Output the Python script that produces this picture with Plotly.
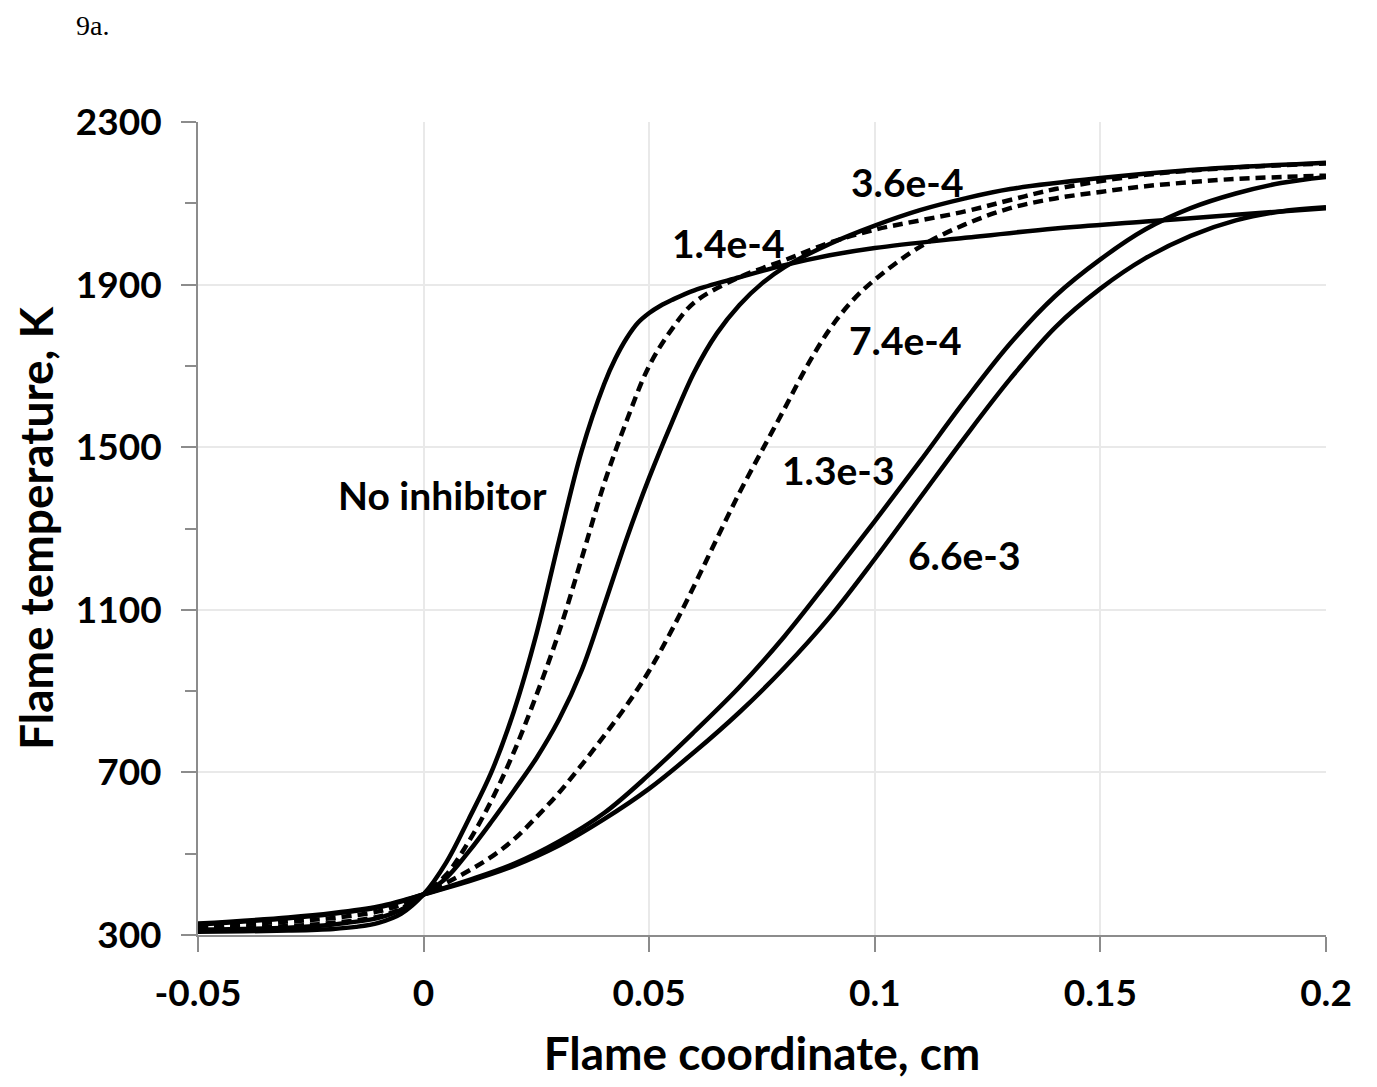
import plotly.graph_objects as go

# ---- data ----
x_no = [-0.05, -0.04, -0.03, -0.02, -0.015, -0.01, -0.005, 0, 0.005, 0.01, 0.015, 0.02, 0.025, 0.03,
        0.035, 0.04, 0.0425, 0.045, 0.0475, 0.05, 0.0525, 0.055, 0.06, 0.07, 0.08, 0.09, 0.1, 0.12,
        0.14, 0.16, 0.18, 0.2]
t_no = [308, 309, 311, 315, 320, 330, 352, 400, 478, 585, 700, 850, 1040, 1270,
        1490, 1655, 1718, 1768, 1806, 1830, 1848, 1862, 1886, 1918, 1948, 1972, 1990, 2015,
        2038, 2055, 2072, 2088]

x_14 = [-0.05, -0.03, -0.02, -0.01, -0.005, 0, 0.005, 0.01, 0.015, 0.02, 0.025, 0.03, 0.035, 0.04,
        0.045, 0.05, 0.055, 0.06, 0.07, 0.08, 0.09, 0.1, 0.12, 0.13, 0.14, 0.16, 0.18, 0.2]
t_14 = [316, 322, 330, 345, 365, 400, 448, 530, 630, 750, 890, 1045, 1225, 1410,
        1565, 1700, 1790, 1856, 1918, 1960, 2003, 2035, 2080, 2108, 2135, 2170, 2188, 2198]

x_36 = [-0.05, -0.03, -0.02, -0.01, -0.005, 0, 0.005, 0.01, 0.015, 0.02, 0.025, 0.03, 0.035, 0.04,
        0.045, 0.05, 0.055, 0.06, 0.065, 0.07, 0.075, 0.08, 0.09, 0.1, 0.11, 0.12, 0.13, 0.15, 0.17, 0.2]
t_36 = [313, 318, 326, 342, 362, 400, 440, 505, 578, 655, 735, 830, 950, 1110,
        1275, 1425, 1560, 1685, 1780, 1850, 1903, 1943, 2000, 2045, 2083, 2112, 2135, 2162, 2182, 2200]

x_74 = [-0.05, -0.03, -0.02, -0.01, -0.005, 0, 0.005, 0.01, 0.015, 0.02, 0.025, 0.03, 0.035, 0.04,
        0.045, 0.05, 0.055, 0.06, 0.065, 0.07, 0.075, 0.08, 0.085, 0.09, 0.095, 0.1, 0.11, 0.12,
        0.13, 0.14, 0.15, 0.16, 0.17, 0.18, 0.2]
t_74 = [322, 333, 342, 358, 375, 400, 428, 458, 492, 535, 590, 650, 718, 790,
        865, 950, 1050, 1160, 1275, 1388, 1492, 1595, 1700, 1790, 1860, 1912, 1993, 2048,
        2088, 2112, 2128, 2142, 2152, 2160, 2168]

x_13 = [-0.05, -0.03, -0.02, -0.01, -0.005, 0, 0.01, 0.02, 0.03, 0.04, 0.05, 0.06, 0.07, 0.08,
        0.09, 0.1, 0.11, 0.12, 0.13, 0.14, 0.15, 0.16, 0.17, 0.18, 0.19, 0.2]
t_13 = [326, 341, 352, 368, 382, 400, 435, 475, 530, 600, 695, 800, 910, 1035,
        1175, 1318, 1465, 1615, 1755, 1872, 1962, 2036, 2088, 2124, 2150, 2165]

x_66 = [-0.05, -0.03, -0.02, -0.01, -0.005, 0, 0.01, 0.02, 0.03, 0.04, 0.05, 0.06, 0.07, 0.08,
        0.09, 0.1, 0.11, 0.12, 0.13, 0.14, 0.15, 0.16, 0.17, 0.18, 0.19, 0.2]
t_66 = [328, 343, 354, 370, 384, 400, 432, 470, 520, 585, 660, 750, 848, 958,
        1082, 1225, 1375, 1525, 1668, 1795, 1890, 1965, 2020, 2058, 2080, 2090]

series = [
    ("No inhibitor", x_no, t_no, "solid"),
    ("1.4e-4", x_14, t_14, "10px,6px"),
    ("3.6e-4", x_36, t_36, "solid"),
    ("7.4e-4", x_74, t_74, "10px,6px"),
    ("1.3e-3", x_13, t_13, "solid"),
    ("6.6e-3", x_66, t_66, "solid"),
]

label_text = ["3.6e-4", "1.4e-4", "7.4e-4", "No inhibitor", "1.3e-3", "6.6e-3"]
label_x = [0.1073, 0.0676, 0.1068, 0.0042, 0.0920, 0.1199]
label_y = [2152, 2002, 1764, 1382, 1444, 1235]

x_ticks = [-0.05, 0, 0.05, 0.1, 0.15, 0.2]
x_tick_text = ["-0.05", "0", "0.05", "0.1", "0.15", "0.2"]
y_ticks = [300, 700, 1100, 1500, 1900, 2300]

FONT = "Lato"

fig = go.Figure()
for name, xs, ts, dash in series:
    fig.add_trace(go.Scatter(
        x=xs, y=ts, mode="lines", name=name,
        line=dict(color="black", width=4.5, dash=dash, shape="spline", smoothing=1.0),
        showlegend=False, hoverinfo="skip"))

for t, lx, ly in zip(label_text, label_x, label_y):
    fig.add_annotation(x=lx, y=ly, text=t, showarrow=False,
                       font=dict(family=FONT, size=39, color="black", weight="bold"),
                       xanchor="center", yanchor="middle")

pw, ph = 1377 - 198 - 51, 1087 - 122 - 152
fig.add_annotation(x=(92 - 198) / pw, y=(935 - 25) / ph, xref="paper", yref="paper",
                   xanchor="center", yanchor="middle", showarrow=False,
                   text="9a.", font=dict(family="Liberation Serif", size=28, color="black"))

fig.update_layout(
    width=1377, height=1087,
    margin=dict(l=198, r=51, t=122, b=152),
    paper_bgcolor="white", plot_bgcolor="white",
    font=dict(family=FONT, color="black"),
)

fig.update_xaxes(
    range=[-0.05, 0.2], tickvals=x_ticks, ticktext=x_tick_text,
    showgrid=True, gridcolor="#e9e9e9", gridwidth=1.5,
    showline=True, linecolor="#8c8c8c", linewidth=2,
    ticks="outside", ticklen=15, tickwidth=2, tickcolor="#8c8c8c",
    ticklabelstandoff=10,
    tickfont=dict(family=FONT, size=37, color="black", weight="bold"),
    title=dict(text="Flame coordinate, cm", font=dict(family=FONT, size=46, color="black", weight="bold"), standoff=24),
    zeroline=False,
)
fig.update_yaxes(
    range=[300, 2300], tickvals=y_ticks,
    showgrid=True, gridcolor="#e9e9e9", gridwidth=1.5,
    showline=True, linecolor="#8c8c8c", linewidth=2,
    ticks="outside", ticklen=15, tickwidth=2, tickcolor="#8c8c8c",
    ticklabelstandoff=12,
    tickfont=dict(family=FONT, size=37, color="black", weight="bold"),
    minor=dict(ticks="outside", ticklen=11, tickwidth=2, tickcolor="#8c8c8c", dtick=200, tick0=300, showgrid=False),
    title=dict(text="Flame temperature, K", font=dict(family=FONT, size=46, color="black", weight="bold"), standoff=8),
    zeroline=False,
)

fig.write_html("out.html")
